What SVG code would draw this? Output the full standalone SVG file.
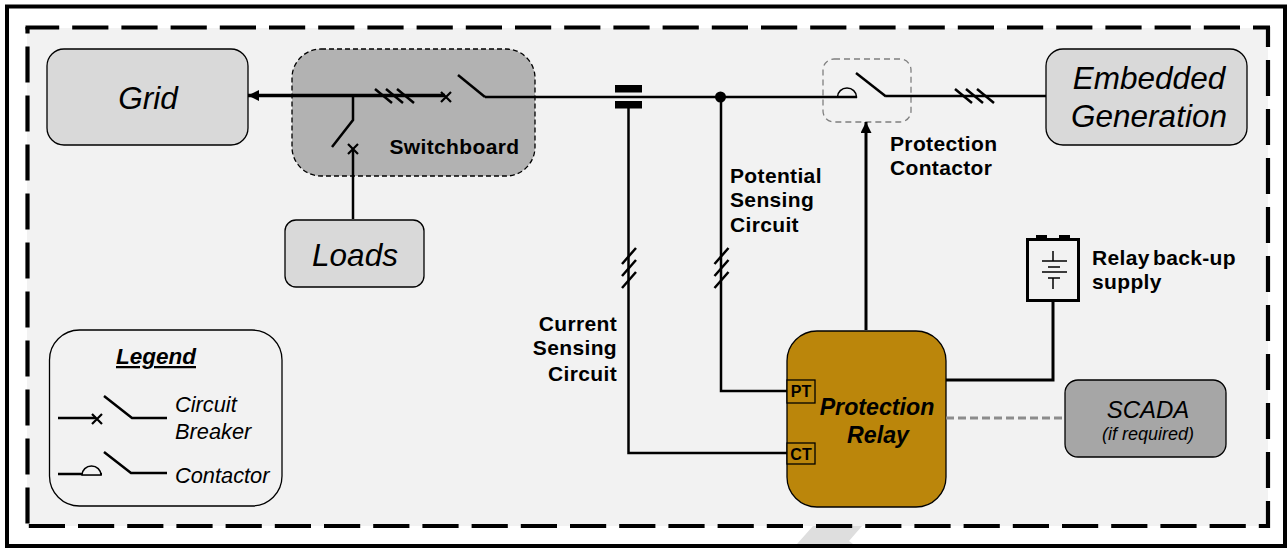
<svg xmlns="http://www.w3.org/2000/svg" width="1287" height="548" viewBox="0 0 1287 548">
<style>
text{font-family:"Liberation Sans",Arial,sans-serif;fill:#000}
.big{font-size:31.500px;font-style:italic;text-anchor:middle}
.lab{font-size:21px;font-weight:700;letter-spacing:.35px}
.leg{font-size:21.800px;font-style:italic}
.w{fill:none;stroke:#000;stroke-width:3}
.h{fill:none;stroke:#000;stroke-width:3.500}
.t{fill:none;stroke:#000;stroke-width:2.500}
.x{fill:none;stroke:#000;stroke-width:2.200}
.box{stroke:#000;stroke-width:1.300}
.frame{fill:none;stroke:#000;stroke-width:4.200}
</style>
<defs>
<marker id="arr" markerUnits="userSpaceOnUse" markerWidth="12" markerHeight="12" refX="11" refY="5.500" orient="auto"><path d="M0 0L11 5.500L0 11Z" fill="#000"/></marker>
<path id="hash3" class="t" d="M-20-7L-3 7M-9-7L8 7M2-7L19 7"/>
<path id="vhash" class="t" d="M0 16L14 0M0 28L14 12M0 40L14 24"/>
</defs>
<rect width="1287" height="548" fill="#fff"/>
<polygon points="813,526 862,526 849,541 853,544 797,544" fill="#dedede"/>
<rect x="7" y="6.500" width="1278" height="539.500" fill="none" stroke="#000" stroke-width="4"/>
<rect x="27" y="28" width="1241" height="498" fill="#f2f2f2"/>
<g id="frame" class="frame">
<path class="frame" stroke-dasharray="36.200 13" stroke-dashoffset="2.500" d="M25.500 27.500H1270"/>
<path class="frame" stroke-dasharray="36 13" stroke-dashoffset="29.500" d="M27.500 27V526"/>
<path class="frame" stroke-dasharray="36 13" stroke-dashoffset="16" d="M1268 27V528"/>
<path class="frame" stroke-dasharray="36.200 13" stroke-dashoffset="47.400" d="M27 526H1270"/>
</g>
<g id="grid"><rect class="box" x="47" y="49" width="201" height="96" rx="17" fill="#d9d9d9"/><text class="big" x="148" y="109">Grid</text></g>
<g id="switchboard"><rect x="292" y="49" width="243" height="127" rx="29" fill="#b2b2b2" stroke="#000" stroke-width="1.300" stroke-dasharray="5 3"/><text class="lab" x="389.500" y="154">Switchboard</text></g>
<g id="loads"><rect class="box" x="285" y="220" width="139" height="67" rx="11" fill="#d9d9d9"/><text class="big" x="355" y="266">Loads</text></g>
<g id="embedded"><rect class="box" x="1046" y="49" width="201" height="96" rx="17" fill="#d9d9d9"/><text class="big" x="1149" y="89">Embedded</text><text class="big" x="1149" y="127">Generation</text></g>
<g id="contactor"><rect x="823" y="59" width="88" height="63" rx="11" fill="none" stroke="#7f7f7f" stroke-width="1.300" stroke-dasharray="6 4"/><path d="M837.500 97a9.500 9 0 0 1 19 0Z" fill="#f2f2f2" stroke="#000" stroke-width="1.500"/><path class="t" d="M856 73L886 96.500"/></g>
<g id="relay"><rect class="box" x="787" y="331" width="159" height="176" rx="30" fill="#bb860b"/>
<rect x="787" y="380" width="28" height="23" fill="#bb860b" stroke="#000" stroke-width="1.300"/><text x="801" y="397" font-size="16" font-weight="700" text-anchor="middle">PT</text>
<rect x="787" y="443" width="28" height="21" fill="#bb860b" stroke="#000" stroke-width="1.300"/><text x="801" y="460" font-size="16" font-weight="700" text-anchor="middle">CT</text>
<text x="877" y="415" font-size="23.200" font-weight="700" font-style="italic" text-anchor="middle">Protection</text><text x="878" y="443" font-size="23.200" font-weight="700" font-style="italic" text-anchor="middle">Relay</text></g>
<g id="scada"><rect class="box" x="1065" y="380" width="161" height="77" rx="13" fill="#a6a6a6"/><text x="1148" y="418" font-size="24" font-style="italic" text-anchor="middle">SCADA</text><text x="1148" y="440" font-size="18" font-style="italic" text-anchor="middle">(if required)</text></g>
<g id="battery"><rect x="1036" y="235" width="11" height="5"/><rect x="1059" y="235" width="11" height="5"/><rect x="1027.500" y="239.500" width="51" height="61" fill="#f2f2f2" stroke="#000" stroke-width="3"/><path d="M1053 251V261M1042 261H1067M1048 267H1060M1042 272H1067M1048 278H1060M1053 278V289" stroke="#000" stroke-width="1.500" fill="none"/></g>
<g id="legend"><rect x="49.500" y="330" width="232.500" height="176" rx="30" fill="#f2f2f2" stroke="#000" stroke-width="1.300"/>
<text x="156" y="364" font-size="22.500" font-weight="700" font-style="italic" text-anchor="middle" text-decoration="underline">Legend</text>
<path class="t" d="M58 418H96M104 396L132 418H167M58 474H102M104 452L131 473H167"/>
<path class="x" d="M92 414L102 424M92 424L102 414"/>
<path d="M82 475a9.500 9 0 0 1 19 0Z" fill="#f2f2f2" stroke="#000" stroke-width="1.500"/>
<text class="leg" x="175" y="412">Circuit</text><text class="leg" x="175" y="439">Breaker</text><text class="leg" x="175" y="483">Contactor</text></g>
<g id="connectors">
<path class="h" d="M445 95.500H248" marker-end="url(#arr)"/>
<path class="t" d="M485 97H857M886 96H1046"/>
<path class="t" d="M458 75L485 97"/>
<path class="t" d="M721 97V391H787"/>
<path class="t" d="M628.500 108V453H787"/>
<path class="t" d="M353 96V120L332 147"/>
<path class="t" d="M353 148V219"/>
<path class="w" d="M866 330V122" marker-end="url(#arr)"/>
<path class="w" d="M946 380H1053V300"/>
<path d="M946 418H1065" fill="none" stroke="#8c8c8c" stroke-width="3" stroke-dasharray="8 4"/>
<circle cx="720.500" cy="97" r="5.500"/>
<rect x="615" y="85" width="27" height="7.500"/>
<rect x="615" y="101" width="27" height="7.500"/>
<use href="#hash3" x="395" y="96"/>
<use href="#hash3" x="975" y="96"/>
<use href="#vhash" x="622" y="248"/>
<use href="#vhash" x="714.500" y="248"/>
<path class="x" d="M441 92L451 102M441 102L451 92M348 144L358 154M348 154L358 144"/>
</g>
<g id="labels">
<text class="lab" x="890" y="151">Protection</text><text class="lab" x="890" y="175">Contactor</text>
<text class="lab" x="730" y="183">Potential</text><text class="lab" x="730" y="207">Sensing</text><text class="lab" x="730" y="232">Circuit</text>
<g text-anchor="end"><text class="lab" x="617" y="331">Current</text><text class="lab" x="617" y="355">Sensing</text><text class="lab" x="617" y="381">Circuit</text></g>
<text class="lab" x="1092" y="265" word-spacing="-3">Relay back-up</text><text class="lab" x="1092" y="289">supply</text>
</g>
</svg>
